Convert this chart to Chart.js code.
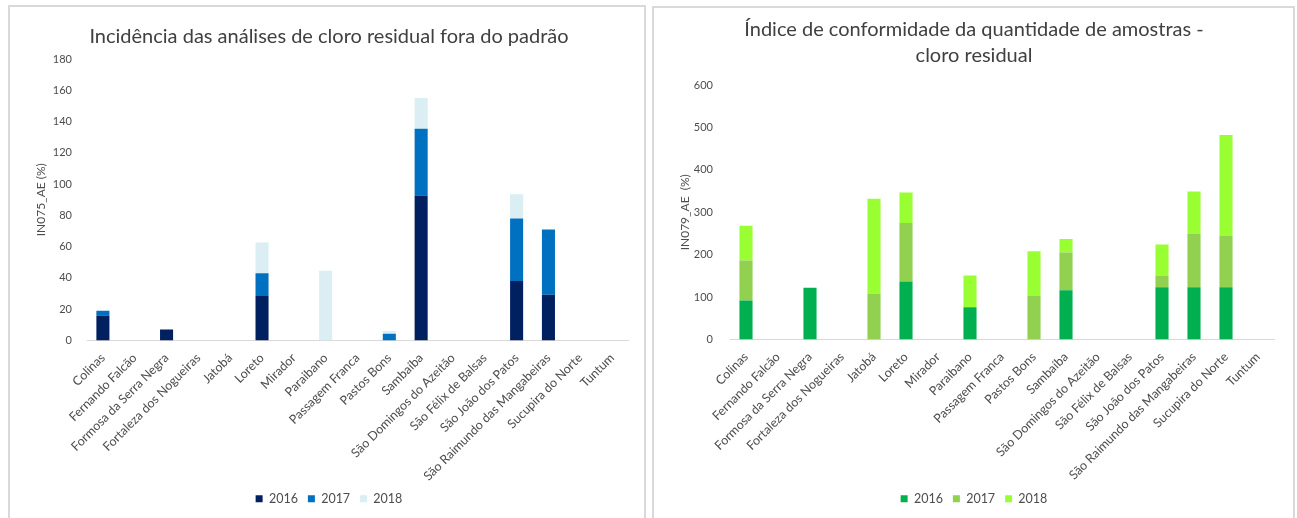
<!DOCTYPE html>
<html>
<head>
<meta charset="utf-8">
<title>cloro residual</title>
<script src="https://cdn.jsdelivr.net/npm/chart.js@4.4.1/dist/chart.umd.min.js"></script>
<style>
  body { margin:0; width:1297px; height:518px; overflow:hidden; background:#fff; position:relative; }
  .panel { position:absolute; border:2px solid #d9d9d9; height:600px; box-sizing:border-box; }
  .box { position:absolute; top:0; height:518px; }
</style>
</head>
<body>

<div class="panel" style="left:8px; top:5px; width:638px;"></div>
<div class="panel" style="left:652px; top:6px; width:643px;"></div>

<div class="box" style="left:0; width:650px;"><canvas id="chartLeft"></canvas></div>
<div class="box" style="left:650px; width:647px;"><canvas id="chartRight"></canvas></div>

<script>
  // municípios
  var categories = ['Colinas', 'Fernando Falcão', 'Formosa da Serra Negra', 'Fortaleza dos Nogueiras',
    'Jatobá', 'Loreto', 'Mirador', 'Paraibano', 'Passagem Franca', 'Pastos Bons', 'Sambaíba',
    'São Domingos do Azeitão', 'São Félix de Balsas', 'São João dos Patos',
    'São Raimundo das Mangabeiras', 'Sucupira do Norte', 'Tuntum'];
  var years = ['2016', '2017', '2018'];

  // IN075 - incidência fora do padrão
  var inc2016 = [16, 0, 7, 0, 0, 28.5, 0, 0, 0, 0, 92.7, 0, 0, 38, 29.3, 0, 0];
  var inc2017 = [3, 0, 0, 0, 0, 14.5, 0, 0, 0, 4.3, 42.7, 0, 0, 40, 41.7, 0, 0];
  var inc2018 = [0, 0, 0, 0, 0, 19.7, 0, 44.6, 0, 1.7, 19.7, 0, 0, 15.5, 0, 0, 0];

  // IN079 - conformidade da quantidade de amostras
  var conf2016 = [92, 0, 122, 0, 0, 136.5, 0, 76, 0, 0, 116, 0, 0, 123, 123, 123, 0];
  var conf2017 = [94, 0, 0, 0, 107, 138, 0, 0, 0, 104, 89, 0, 0, 28, 126, 122, 0];
  var conf2018 = [82, 0, 0, 0, 225, 72, 0, 75, 0, 104, 32, 0, 0, 73, 100, 237, 0];

  // eixo y: [min, max, passo]
  var leftTicks = [0, 180, 20];
  var rightTicks = [0, 600, 100];

  var blues = ['#002060', '#0070C0', '#DAEEF3'];
  var greens = ['#00B050', '#92D050', '#99FF33'];

  var textColor = '#4d4d4d';
  var fontName = 'Lato, "Open Sans", sans-serif';

  function buildChart(id, title, titlePad, titleLine, yTitle, ticks, series, colors, yWidth, tickPad, xHeight, padLeft, padRight) {
    var datasets = [];
    for (var i = 0; i < series.length; i++) {
      datasets.push({
        label: years[i],
        data: series[i],
        backgroundColor: colors[i],
        borderWidth: 0,
        barPercentage: 0.41,
        categoryPercentage: 1
      });
    }

    return new Chart(document.getElementById(id), {
      type: 'bar',
      data: { labels: categories, datasets: datasets },
      options: {
        responsive: true,
        maintainAspectRatio: false,
        animation: false,
        layout: { padding: { left: padLeft, right: padRight, top: 0, bottom: 3 } },
        plugins: {
          title: {
            display: true,
            text: title,
            color: '#404040',
            font: { family: fontName, size: 20, weight: 'normal', lineHeight: titleLine },
            padding: titlePad
          },
          legend: {
            position: 'bottom',
            labels: {
              boxWidth: 7,
              boxHeight: 7,
              color: textColor,
              font: { family: fontName, size: 12.5 },
              padding: 10
            }
          },
          tooltip: { enabled: false }
        },
        scales: {
          x: {
            stacked: true,
            grid: { display: false },
            border: { display: true, color: '#d9d9d9', width: 1 },
            ticks: {
              autoSkip: false,
              maxRotation: 45,
              minRotation: 45,
              color: textColor,
              padding: 2,
              font: { family: fontName, size: 12.5 }
            },
            afterFit: function (scale) { scale.height = xHeight; }
          },
          y: {
            stacked: true,
            min: ticks[0],
            max: ticks[1],
            grid: { display: false, drawTicks: false },
            border: { display: false },
            ticks: {
              stepSize: ticks[2],
              color: textColor,
              padding: tickPad,
              font: { family: fontName, size: 11 }
            },
            title: {
              display: true,
              text: yTitle,
              color: textColor,
              font: { family: fontName, size: 12 }
            },
            afterFit: function (scale) { scale.width = yWidth; }
          }
        }
      }
    });
  }

  var chartLeft = buildChart('chartLeft',
    'Incidência das análises de cloro residual fora do padrão',
    { top: 25, bottom: 10 }, 1.2,
    'IN075_AE (%)', leftTicks, [inc2016, inc2017, inc2018], blues,
    57, 15, 142, 30, 22);

  var chartRight = buildChart('chartRight',
    ['Índice de conformidade da quantidade de amostras -', 'cloro residual'],
    { top: 17, bottom: 16 }, 1.3,
    'IN079_AE  (%)', rightTicks, [conf2016, conf2017, conf2018], greens,
    56, 17, 143, 24, 23);
</script>

</body>
</html>
